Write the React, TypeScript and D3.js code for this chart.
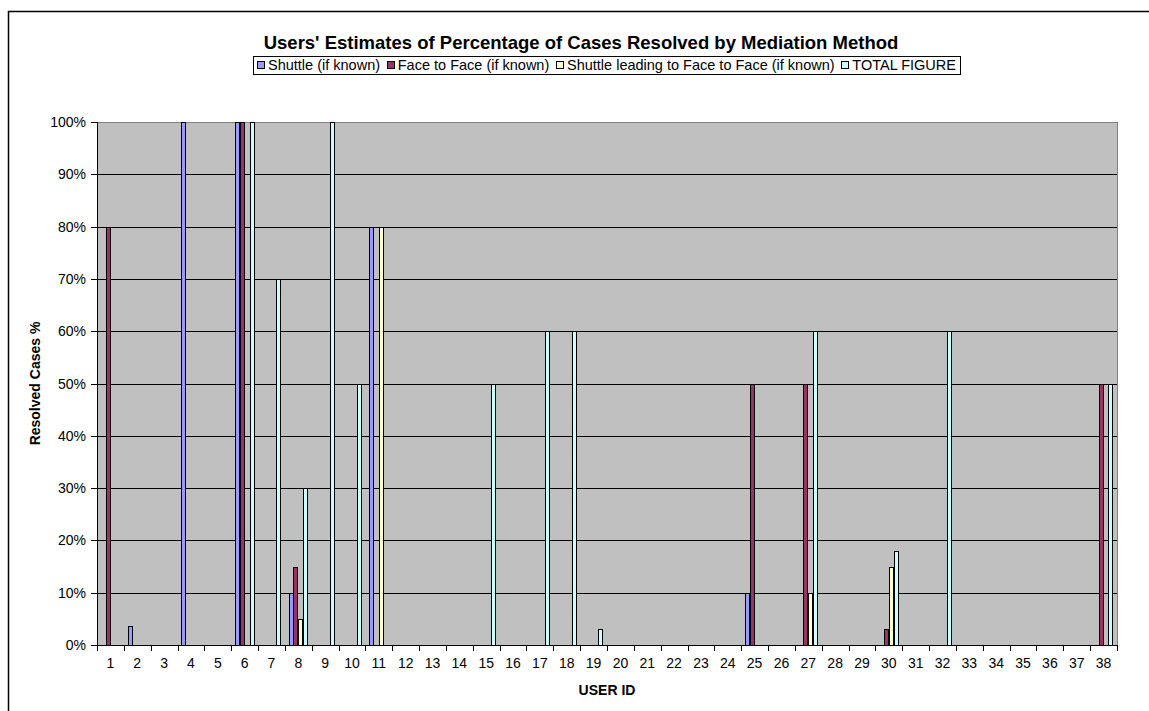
import React, { useEffect, useRef } from "react";
import * as d3 from "d3";

const categories = [
  "1", "2", "3", "4", "5", "6", "7", "8", "9", "10",
  "11", "12", "13", "14", "15", "16", "17", "18", "19", "20",
  "21", "22", "23", "24", "25", "26", "27", "28", "29", "30",
  "31", "32", "33", "34", "35", "36", "37", "38",
];

const seriesNames = [
  "Shuttle (if known)",
  "Face to Face (if known)",
  "Shuttle leading to Face to Face (if known)",
  "TOTAL FIGURE",
];

const seriesColors = ["#9999FF", "#993366", "#FFFFCC", "#CCFFFF"];

// values in % per user id (1..38)
const shuttle = [
  0, 3.7, 0, 100, 0, 100, 0, 10, 0, 0,
  80, 0, 0, 0, 0, 0, 0, 0, 0, 0,
  0, 0, 0, 0, 10, 0, 0, 0, 0, 0,
  0, 0, 0, 0, 0, 0, 0, 0,
];
const faceToFace = [
  80, 0, 0, 0, 0, 100, 0, 15, 0, 0,
  0, 0, 0, 0, 0, 0, 0, 0, 0, 0,
  0, 0, 0, 0, 50, 0, 50, 0, 0, 3,
  0, 0, 0, 0, 0, 0, 0, 50,
];
const shuttleLeading = [
  0, 0, 0, 0, 0, 0, 0, 5, 0, 0,
  80, 0, 0, 0, 0, 0, 0, 0, 0, 0,
  0, 0, 0, 0, 0, 0, 10, 0, 0, 15,
  0, 0, 0, 0, 0, 0, 0, 0,
];
const totalFigure = [
  0, 0, 0, 0, 0, 100, 70, 30, 100, 50,
  0, 0, 0, 0, 50, 0, 60, 60, 3, 0,
  0, 0, 0, 0, 0, 0, 60, 0, 0, 18,
  0, 60, 0, 0, 0, 0, 0, 50,
];

const yTicks = [0, 10, 20, 30, 40, 50, 60, 70, 80, 90, 100];

const titleText = "Users' Estimates of Percentage of Cases Resolved by Mediation Method";
const xTitle = "USER ID";
const yTitle = "Resolved Cases %";

const FONT = "'Liberation Sans', Arial, sans-serif";

export default function App() {
  const ref = useRef<SVGSVGElement>(null);

  useEffect(() => {
    const svg = d3.select(ref.current);
    svg.selectAll("*").remove();

    const plot = { left: 97, right: 1117, top: 122, bottom: 645 };
    const seriesValues = [shuttle, faceToFace, shuttleLeading, totalFigure];

    const x = d3.scaleBand<string>().domain(categories).range([plot.left, plot.right]).paddingInner(0).paddingOuter(0);
    const xs = d3.scaleBand<string>().domain(seriesNames).range([0, x.bandwidth()]).paddingInner(0).paddingOuter(0.75);
    const y = d3.scaleLinear().domain([0, 100]).range([plot.bottom, plot.top]);

    // chart border
    svg.append("rect")
      .attr("x", 8.5).attr("y", 11.5)
      .attr("width", 1150).attr("height", 720)
      .attr("fill", "#fff").attr("stroke", "#000").attr("stroke-width", 1.5);

    // plot background
    svg.append("rect")
      .attr("x", plot.left).attr("y", plot.top)
      .attr("width", plot.right - plot.left).attr("height", plot.bottom - plot.top)
      .attr("fill", "#C0C0C0");

    // gridlines
    svg.append("g").selectAll("line").data(yTicks.filter((t) => t > 0)).join("line")
      .attr("x1", plot.left).attr("x2", plot.right)
      .attr("y1", (d) => Math.round(y(d)) + 0.5).attr("y2", (d) => Math.round(y(d)) + 0.5)
      .attr("stroke", (d) => (d === 100 ? "#808080" : "#000")).attr("stroke-width", 1);

    // plot border right
    svg.append("line")
      .attr("x1", plot.right + 0.5).attr("x2", plot.right + 0.5)
      .attr("y1", plot.top).attr("y2", plot.bottom)
      .attr("stroke", "#808080");

    // bars
    const bw = Math.round(xs.bandwidth());
    seriesNames.forEach((s, si) => {
      const vals = seriesValues[si];
      svg.append("g").selectAll("rect")
        .data(categories.map((c, i) => ({ c, v: vals[i] })).filter((d) => d.v > 0))
        .join("rect")
        .attr("x", (d) => Math.round((x(d.c) as number) + (xs(s) as number)) + 0.5)
        .attr("y", (d) => Math.round(y(d.v)) + 0.5)
        .attr("width", bw - 1)
        .attr("height", (d) => Math.round(y(0)) - Math.round(y(d.v)))
        .attr("fill", seriesColors[si])
        .attr("stroke", "#000").attr("stroke-width", 1);
    });

    // y axis
    const ya = svg.append("g");
    ya.append("line")
      .attr("x1", plot.left + 0.5).attr("x2", plot.left + 0.5)
      .attr("y1", plot.top).attr("y2", plot.bottom + 0.5)
      .attr("stroke", "#000");
    ya.selectAll("line.t").data(yTicks).join("line").attr("class", "t")
      .attr("x1", plot.left - 6).attr("x2", plot.left)
      .attr("y1", (d) => Math.round(y(d)) + 0.5).attr("y2", (d) => Math.round(y(d)) + 0.5)
      .attr("stroke", "#000");
    ya.selectAll("text").data(yTicks).join("text")
      .attr("x", plot.left - 11).attr("y", (d) => y(d) + 5)
      .attr("text-anchor", "end")
      .style("font-family", FONT).style("font-size", "14px").attr("fill", "#000")
      .text((d) => d3.format(".0%")(d / 100));

    // x axis
    const xa = svg.append("g");
    xa.append("line")
      .attr("x1", plot.left).attr("x2", plot.right + 1)
      .attr("y1", plot.bottom + 0.5).attr("y2", plot.bottom + 0.5)
      .attr("stroke", "#000");
    const bounds = categories.map((c) => x(c) as number).concat([plot.right]);
    xa.selectAll("line.t").data(bounds).join("line").attr("class", "t")
      .attr("x1", (d) => Math.round(d) + 0.5).attr("x2", (d) => Math.round(d) + 0.5)
      .attr("y1", plot.bottom).attr("y2", plot.bottom + 6)
      .attr("stroke", "#000");
    xa.selectAll("text").data(categories).join("text")
      .attr("x", (d) => (x(d) as number) + x.bandwidth() / 2).attr("y", plot.bottom + 23)
      .attr("text-anchor", "middle")
      .style("font-family", FONT).style("font-size", "14px").attr("fill", "#000")
      .text((d) => d);

    // axis titles
    svg.append("text")
      .attr("x", (plot.left + plot.right) / 2).attr("y", 695)
      .attr("text-anchor", "middle")
      .style("font-family", FONT).style("font-size", "14px").style("font-weight", "bold")
      .text(xTitle);
    svg.append("text")
      .attr("transform", `translate(40,${(plot.top + plot.bottom) / 2}) rotate(-90)`)
      .attr("text-anchor", "middle")
      .style("font-family", FONT).style("font-size", "14px").style("font-weight", "bold")
      .text(yTitle);

    // title
    svg.append("text")
      .attr("x", 581).attr("y", 49)
      .attr("text-anchor", "middle")
      .style("font-family", FONT).style("font-size", "18.5px").style("font-weight", "bold")
      .text(titleText);

    // legend
    const lg = svg.append("g");
    const lgX = 253, lgY = 56, lgH = 18, lgW = 707;
    const box = lg.append("rect")
      .attr("x", lgX + 0.5).attr("y", lgY + 0.5).attr("height", lgH).attr("width", lgW)
      .attr("fill", "#fff").attr("stroke", "#000");
    const items = seriesNames.map((s, i) => {
      const sw = lg.append("rect")
        .attr("y", lgY + 5.5).attr("width", 7).attr("height", 7)
        .attr("fill", seriesColors[i]).attr("stroke", "#000");
      const t = lg.append("text")
        .attr("y", lgY + 14)
        .style("font-family", FONT).style("font-size", "14.5px").attr("fill", "#000")
        .text(s);
      return { sw, t, w: (t.node() as SVGTextElement).getComputedTextLength() };
    });
    const textSum = d3.sum(items, (d) => d.w);
    const pad = 4;
    const gap = (lgW - 2 * pad - textSum - items.length * 11) / (items.length - 1);
    let cx = lgX + pad;
    items.forEach((it) => {
      it.sw.attr("x", Math.round(cx) + 0.5);
      it.t.attr("x", cx + 11);
      cx += 11 + it.w + gap;
    });
    void box;
  }, []);

  return (
    <div style={{ position: "absolute", left: 0, top: 0 }}>
      <svg ref={ref} width={1149} height={711} style={{ display: "block" }} />
    </div>
  );
}
